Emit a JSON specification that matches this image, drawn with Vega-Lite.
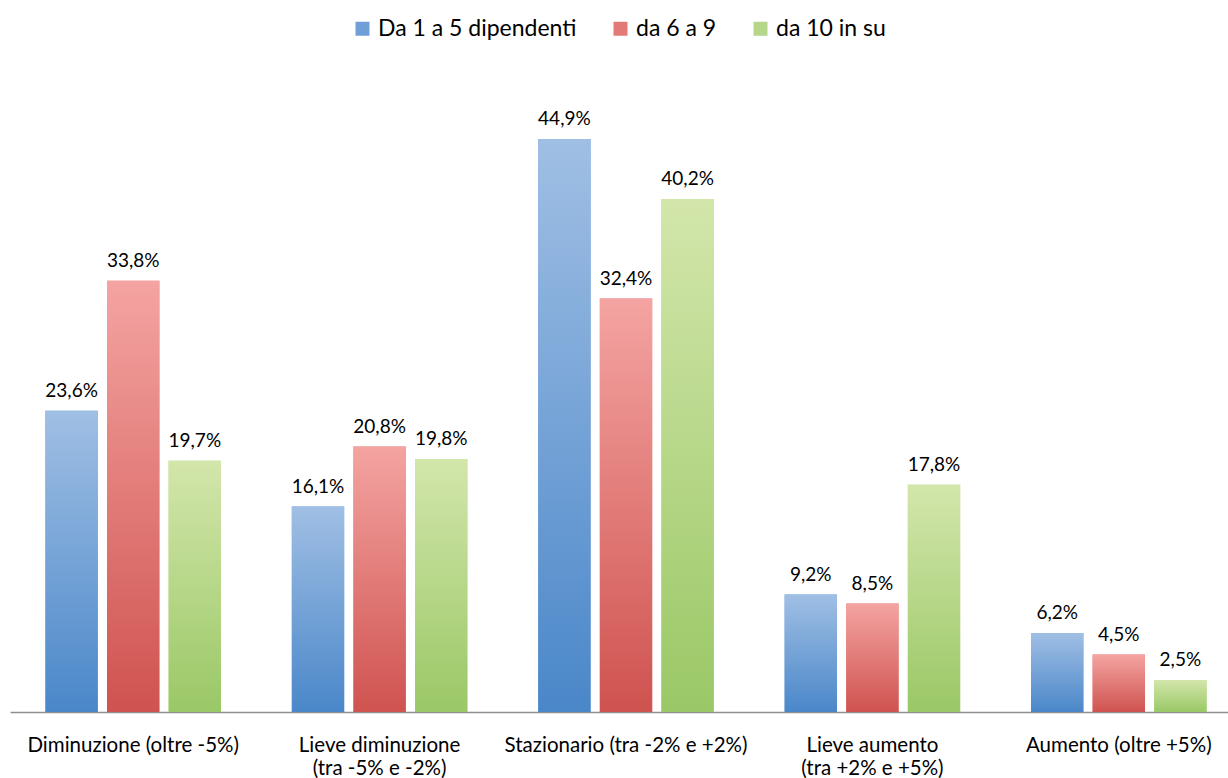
{
  "$schema": "https://vega.github.io/schema/vega-lite/v6.json",
  "autosize": "none",
  "width": 1232,
  "height": 638,
  "padding": {"left": 10, "top": 74, "right": 0, "bottom": 66},
  "background": "white",
  "config": {
    "view": {"stroke": null},
    "font": "Lato",
    "text": {"font": "Lato"}
  },
  "data": {
    "values": [
      {"cat": "Diminuzione (oltre -5%)", "serie": "Da 1 a 5 dipendenti", "v": 23.6},
      {"cat": "Diminuzione (oltre -5%)", "serie": "da 6 a 9", "v": 33.8},
      {"cat": "Diminuzione (oltre -5%)", "serie": "da 10 in su", "v": 19.7},
      {"cat": "Lieve diminuzione\n(tra -5% e -2%)", "serie": "Da 1 a 5 dipendenti", "v": 16.1},
      {"cat": "Lieve diminuzione\n(tra -5% e -2%)", "serie": "da 6 a 9", "v": 20.8},
      {"cat": "Lieve diminuzione\n(tra -5% e -2%)", "serie": "da 10 in su", "v": 19.8},
      {"cat": "Stazionario (tra -2% e +2%)", "serie": "Da 1 a 5 dipendenti", "v": 44.9},
      {"cat": "Stazionario (tra -2% e +2%)", "serie": "da 6 a 9", "v": 32.4},
      {"cat": "Stazionario (tra -2% e +2%)", "serie": "da 10 in su", "v": 40.2},
      {"cat": "Lieve aumento\n(tra +2% e +5%)", "serie": "Da 1 a 5 dipendenti", "v": 9.2},
      {"cat": "Lieve aumento\n(tra +2% e +5%)", "serie": "da 6 a 9", "v": 8.5},
      {"cat": "Lieve aumento\n(tra +2% e +5%)", "serie": "da 10 in su", "v": 17.8},
      {"cat": "Aumento (oltre +5%)", "serie": "Da 1 a 5 dipendenti", "v": 6.2},
      {"cat": "Aumento (oltre +5%)", "serie": "da 6 a 9", "v": 4.5},
      {"cat": "Aumento (oltre +5%)", "serie": "da 10 in su", "v": 2.5}
    ]
  },
  "encoding": {
    "x": {
      "field": "cat", "type": "nominal", "sort": null, "title": null,
      "scale": {"paddingInner": 0.25, "paddingOuter": 0.125},
      "axis": {
        "labelAngle": 0, "ticks": false, "labelPadding": 23,
        "labelFontSize": 20.5, "labelColor": "#000000", "labelLineHeight": 23,
        "labelExpr": "split(datum.value, '\\n')",
        "domainColor": "#8f8f8f", "domainWidth": 1.5, "labelLimit": 400
      }
    },
    "xOffset": {
      "field": "serie", "type": "nominal",
      "scale": {"domain": ["Da 1 a 5 dipendenti", "da 6 a 9", "da 10 in su"], "paddingInner": 0.15, "paddingOuter": 0.075}
    },
    "y": {
      "field": "v", "type": "quantitative",
      "scale": {"domain": [0, 50], "nice": false},
      "axis": null
    }
  },
  "layer": [
    {
      "mark": {"type": "bar"},
      "encoding": {
        "fill": {
          "field": "serie", "type": "nominal",
          "scale": {"domain": ["Da 1 a 5 dipendenti", "da 6 a 9", "da 10 in su"], "range": ["#6f9fd6", "#e27b78", "#b6d689"]},
          "legend": {
            "title": null, "orient": "none", "direction": "horizontal",
            "legendX": 341, "legendY": -57,
            "symbolType": "square", "symbolSize": 196, "symbolStrokeWidth": 0,
            "labelFontSize": 23, "labelColor": "#000000", "labelOffset": 4,
            "columnPadding": 32, "labelLimit": 300
          }
        }
      }
    },
    {
      "transform": [{"filter": "datum.serie == 'Da 1 a 5 dipendenti'"}],
      "mark": {"type": "bar", "fill": {"gradient": "linear", "x1": 0, "y1": 0, "x2": 0, "y2": 1,
        "stops": [{"offset": 0, "color": "#a0bfe4"}, {"offset": 1, "color": "#4a87c9"}]}}
    },
    {
      "transform": [{"filter": "datum.serie == 'da 6 a 9'"}],
      "mark": {"type": "bar", "fill": {"gradient": "linear", "x1": 0, "y1": 0, "x2": 0, "y2": 1,
        "stops": [{"offset": 0, "color": "#f4a4a2"}, {"offset": 1, "color": "#cf534f"}]}}
    },
    {
      "transform": [{"filter": "datum.serie == 'da 10 in su'"}],
      "mark": {"type": "bar", "fill": {"gradient": "linear", "x1": 0, "y1": 0, "x2": 0, "y2": 1,
        "stops": [{"offset": 0, "color": "#d3e6ab"}, {"offset": 1, "color": "#9ac866"}]}}
    },
    {
      "transform": [{"calculate": "replace(format(datum.v, '.1f'), '.', ',') + '%'", "as": "lab"}],
      "mark": {"type": "text", "dy": -10, "baseline": "bottom", "fontSize": 19, "color": "#000000"},
      "encoding": {"text": {"field": "lab", "type": "nominal"}}
    }
  ]
}
